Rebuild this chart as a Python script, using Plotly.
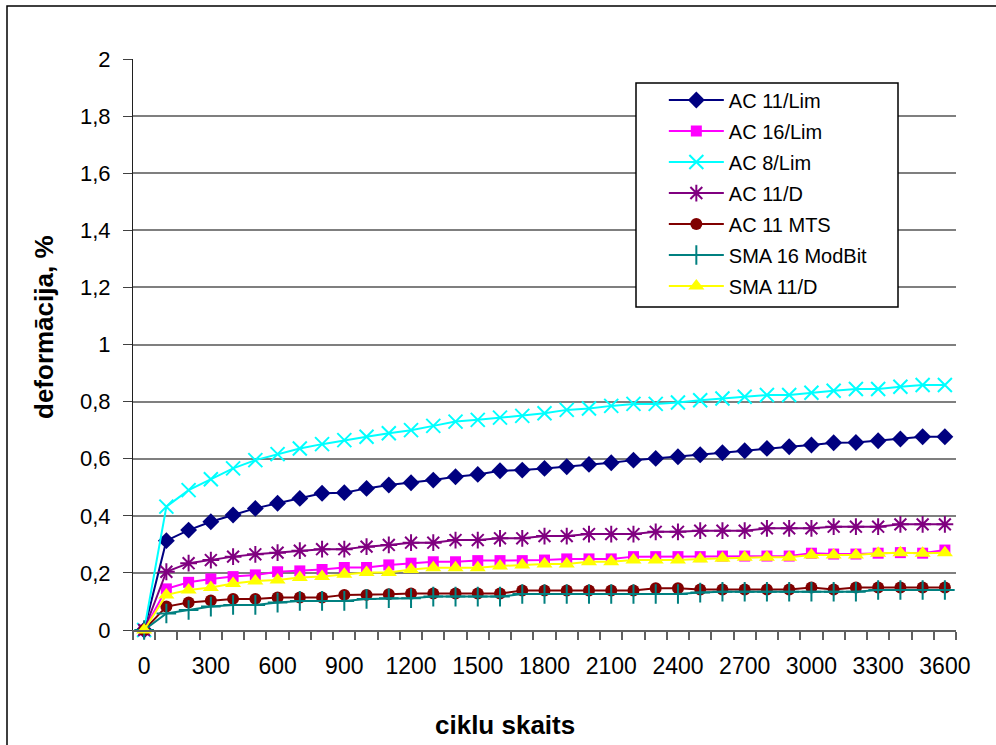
import plotly.graph_objects as go

# Load cycles (category axis) and deformation in %
cycles = [0, 100, 200, 300, 400, 500, 600, 700, 800, 900, 1000, 1100, 1200,
          1300, 1400, 1500, 1600, 1700, 1800, 1900, 2000, 2100, 2200, 2300,
          2400, 2500, 2600, 2700, 2800, 2900, 3000, 3100, 3200, 3300, 3400,
          3500, 3600]

ac11_lim = [0, 0.313, 0.350, 0.379, 0.403, 0.426, 0.444, 0.461, 0.479, 0.481,
            0.496, 0.508, 0.516, 0.525, 0.537, 0.545, 0.558, 0.560, 0.566,
            0.572, 0.580, 0.586, 0.595, 0.601, 0.607, 0.614, 0.621, 0.628,
            0.636, 0.642, 0.648, 0.656, 0.657, 0.663, 0.669, 0.677, 0.677]
ac16_lim = [0, 0.144, 0.167, 0.179, 0.187, 0.193, 0.204, 0.207, 0.212, 0.219,
            0.219, 0.228, 0.234, 0.239, 0.239, 0.243, 0.243, 0.243, 0.245,
            0.249, 0.249, 0.249, 0.257, 0.257, 0.257, 0.257, 0.259, 0.259,
            0.259, 0.259, 0.269, 0.266, 0.266, 0.269, 0.271, 0.269, 0.280]
ac8_lim = [0, 0.432, 0.490, 0.528, 0.566, 0.595, 0.616, 0.636, 0.651, 0.665,
           0.677, 0.689, 0.700, 0.715, 0.730, 0.736, 0.744, 0.750, 0.759,
           0.771, 0.776, 0.785, 0.792, 0.792, 0.797, 0.805, 0.811, 0.817,
           0.823, 0.823, 0.831, 0.838, 0.844, 0.844, 0.852, 0.858, 0.858]
ac11_d = [0, 0.204, 0.234, 0.245, 0.257, 0.265, 0.271, 0.278, 0.283, 0.283,
          0.292, 0.298, 0.306, 0.306, 0.315, 0.315, 0.321, 0.321, 0.329,
          0.329, 0.336, 0.336, 0.336, 0.344, 0.344, 0.348, 0.348, 0.348,
          0.356, 0.356, 0.356, 0.362, 0.362, 0.362, 0.370, 0.370, 0.370]
ac11_mts = [0, 0.082, 0.096, 0.103, 0.109, 0.109, 0.114, 0.114, 0.114, 0.123,
            0.123, 0.125, 0.128, 0.128, 0.128, 0.128, 0.128, 0.138, 0.138,
            0.138, 0.138, 0.138, 0.138, 0.146, 0.146, 0.142, 0.142, 0.142,
            0.142, 0.142, 0.149, 0.142, 0.149, 0.149, 0.149, 0.149, 0.149]
sma16_modbit = [0, 0.058, 0.070, 0.082, 0.088, 0.088, 0.096, 0.102, 0.102,
                0.102, 0.109, 0.111, 0.111, 0.117, 0.117, 0.117, 0.117, 0.126,
                0.126, 0.126, 0.126, 0.126, 0.126, 0.126, 0.126, 0.131, 0.134,
                0.134, 0.134, 0.134, 0.134, 0.134, 0.134, 0.140, 0.140, 0.140,
                0.140]
sma11_d = [0, 0.123, 0.140, 0.149, 0.163, 0.172, 0.175, 0.184, 0.187, 0.195,
           0.201, 0.201, 0.212, 0.218, 0.218, 0.218, 0.224, 0.228, 0.231,
           0.231, 0.239, 0.239, 0.245, 0.245, 0.245, 0.249, 0.251, 0.255,
           0.255, 0.255, 0.263, 0.263, 0.263, 0.269, 0.271, 0.269, 0.271]

y_ticks = [0, 0.2, 0.4, 0.6, 0.8, 1.0, 1.2, 1.4, 1.6, 1.8, 2.0]
x_label_vals = cycles[::3]

# name, values, colour, marker symbol, marker size, marker outline width
series = [
    ("AC 11/Lim", ac11_lim, "#000080", "diamond", 13, 0),
    ("AC 16/Lim", ac16_lim, "#FF00FF", "square", 11, 0),
    ("AC 8/Lim", ac8_lim, "#00FFFF", "x-thin-open", 14, 2),
    ("AC 11/D", ac11_d, "#800080", "asterisk-open", 14, 2),
    ("AC 11 MTS", ac11_mts, "#800000", "circle", 12, 0),
    ("SMA 16 ModBit", sma16_modbit, "#008080", "cross-thin-open", 14, 2),
    ("SMA 11/D", sma11_d, "#FFFF00", "triangle-up", 14, 0),
]

FONT = "Liberation Sans, Arial, sans-serif"

fig = go.Figure()
for name, vals, color, symbol, size, lw in series:
    fig.add_trace(go.Scatter(
        x=cycles, y=vals, name=name, legendgroup=name,
        mode="lines+markers",
        line=dict(color=color, width=2),
        marker=dict(symbol=symbol, size=size, color=color,
                    line=dict(color=color, width=lw)),
        cliponaxis=False,
    ))

# category boundaries for the x tick marks
step = cycles[1] - cycles[0]
boundaries = [c - step / 2 for c in cycles] + [cycles[-1] + step / 2]

fig.update_layout(
    width=996, height=745,
    margin=dict(l=133, r=40, t=59, b=115, autoexpand=False),
    paper_bgcolor="white", plot_bgcolor="white",
    separators=", ",
    font=dict(family=FONT, color="black"),
    showlegend=True,
    legend=dict(
        x=0.645, y=0.9623, xanchor="left", yanchor="top",
        bgcolor="rgba(0,0,0,0)", borderwidth=0,
        font=dict(family=FONT, size=20, color="black"),
        tracegroupgap=2, itemwidth=55, itemsizing="trace",
    ),
    xaxis=dict(
        range=[boundaries[0], boundaries[-1]],
        tickmode="array", tickvals=x_label_vals,
        ticktext=[str(v) for v in x_label_vals],
        ticks="", showgrid=False, zeroline=False,
        showline=True, linecolor="#606060", linewidth=1.5,
        tickfont=dict(family=FONT, size=23, color="black"),
        ticklabelstandoff=15,
        minor=dict(tickmode="array", tickvals=boundaries, ticks="outside",
                   ticklen=8, tickcolor="#606060", tickwidth=1.5,
                   showgrid=False),
    ),
    yaxis=dict(
        range=[0, 2],
        tickmode="array", tickvals=y_ticks,
        ticks="outside", ticklen=9, tickcolor="#404040", tickwidth=1,
        showgrid=True, gridcolor="#7f7f7f", gridwidth=1.5,
        zeroline=False,
        showline=True, linecolor="#202020", linewidth=1,
        tickfont=dict(family=FONT, size=22, color="black"),
        ticklabelstandoff=8,
    ),
    shapes=[
        # outer chart frame
        dict(type="rect", xref="paper", yref="paper",
             x0=(7 - 133) / 823, x1=(1010 - 133) / 823,
             y0=(630 - 760) / 571, y1=(630 - 6) / 571,
             line=dict(color="black", width=1.5), fillcolor="rgba(0,0,0,0)",
             layer="below"),
        # legend box
        dict(type="rect", xref="paper", yref="paper",
             x0=(636 - 133) / 823, x1=(898 - 133) / 823,
             y0=(630 - 307) / 571, y1=(630 - 83) / 571,
             line=dict(color="black", width=1.5), fillcolor="white",
             layer="above"),
    ],
    annotations=[
        dict(text="<b>deformācija, %</b>", xref="paper", yref="paper",
             x=(44 - 133) / 823, y=(630 - 327) / 571, textangle=-90,
             showarrow=False, xanchor="center", yanchor="middle",
             font=dict(family=FONT, size=26, color="black")),
        dict(text="<b>ciklu skaits</b>", xref="paper", yref="paper",
             x=(505 - 133) / 823, y=(630 - 725) / 571,
             showarrow=False, xanchor="center", yanchor="middle",
             font=dict(family=FONT, size=26, color="black")),
    ],
)

fig.write_html("out.html")
